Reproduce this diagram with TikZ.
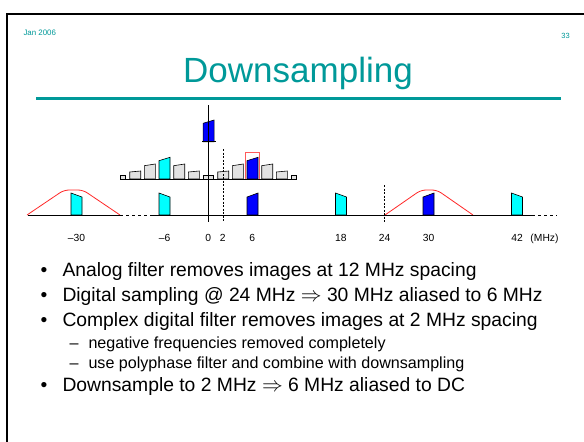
\documentclass[tikz,border=0pt]{standalone}
\usepackage{fontspec}
\setmainfont{Liberation Sans}
\definecolor{slideteal}{RGB}{0,153,153}
\definecolor{pulsegray}{RGB}{226,226,226}
\definecolor{pulsecyan}{RGB}{0,255,255}
\definecolor{pulseblue}{RGB}{0,0,255}
\definecolor{filtred}{RGB}{255,40,40}
\definecolor{boxred}{RGB}{255,90,90}
% one spectral image: centre x, base y, left height, right height, style
\newcommand{\spk}[5]{\draw[#5] ({#1-5.5},#2) -- ({#1-5.5},{#2-#3}) -- ({#1+5.5},{#2-#4}) -- ({#1+5.5},#2) -- cycle;}
\begin{document}
\begin{tikzpicture}[x=1pt,y=-1pt,
  pgray/.style={fill=pulsegray,draw=black,line width=0.6pt},
  pcyan/.style={fill=pulsecyan,draw=black,line width=0.6pt},
  pblue/.style={fill=pulseblue,draw=black,line width=0.6pt},
  axisline/.style={line width=0.9pt,black},
  dashaxis/.style={line width=0.9pt,black,dash pattern=on 3pt off 3pt},
  marker/.style={line width=0.7pt,black,dash pattern=on 2pt off 1.5pt},
  filt/.style={filtred,line width=0.8pt,rounded corners=5pt},
  freq/.style={font=\fontsize{10.3}{12}\selectfont,anchor=base},
  bul/.style={font=\fontsize{19.3}{22}\selectfont,anchor=base west,inner sep=0pt},
  subbul/.style={font=\fontsize{16.1}{19}\selectfont,anchor=base west,inner sep=0pt}]
\useasboundingbox (0,0) rectangle (584,442);
\fill[white] (0,0) rectangle (584,442);
\begin{scope}
\clip (0,0) rectangle (584,442);
% slide frame
\draw[line width=2pt] (6.5,14) rectangle (600,460);
% header
\node[font=\fontsize{7.9}{9}\selectfont,text=slideteal,anchor=base west,inner sep=0pt] (date) at (23.3,35.5) {Jan 2006};
\node[font=\fontsize{7.5}{9}\selectfont,text=slideteal,anchor=base east,inner sep=0pt] (page) at (570,38.5) {33};
\node[font=\fontsize{35}{40}\selectfont,text=slideteal,anchor=base,inner sep=0pt] (title) at (298,82) {Downsampling};
\fill[slideteal] (35.7,96.7) rectangle (560.7,100);

% upper spectrum (after digital filtering)
\spk{135.2}{179}{7}{8}{pgray}
\spk{149.8}{179}{13.3}{15}{pgray}
\spk{164.5}{179}{18.3}{21.7}{pcyan}
\spk{179.2}{179}{13.3}{15}{pgray}
\spk{193.8}{179}{7}{8}{pgray}
\spk{223.2}{179}{7}{8}{pgray}
\spk{237.8}{179}{13.3}{15}{pgray}
\spk{252.5}{179}{18.3}{21.7}{pblue}
\spk{267.2}{179}{13.3}{15}{pgray}
\spk{281.8}{179}{7}{8}{pgray}
\draw[pgray] (120,179) rectangle (125.7,175);
\draw[pgray] (203.3,179) rectangle (213.5,175.3);
\draw[pgray] (291,179) rectangle (296.7,175);
\draw[boxred,line width=0.9pt] (245.7,179) -- (245.7,152.3) -- (259.3,152.3) -- (259.3,179);
\draw[axisline] (120,179) -- (297,179);

% downsampled component at DC
\spk{208.6}{141.7}{18.4}{21.7}{pblue}
\draw[axisline] (202,141.7) -- (215.5,141.7);

% frequency axes
\draw[axisline] (208.3,105) -- (208.3,222);
\draw[marker] (223,149) -- (223,222);
\draw[marker] (384,185) -- (384,222);

% lower spectrum (analog filter and sampled images)
\draw[filt] (27,215) -- (64,190) -- (83,190) -- (120,215);
\draw[filt] (385,215) -- (421,190) -- (437,190) -- (473,215);
\spk{76.5}{215}{22}{18}{pcyan}
\spk{164.5}{215}{22}{18}{pcyan}
\spk{252.5}{215}{18}{22}{pblue}
\spk{341}{215}{22}{18}{pcyan}
\spk{428.5}{215}{18}{22}{pblue}
\spk{517}{215}{22}{18}{pcyan}
\draw[axisline] (28,215) -- (120,215);
\draw[dashaxis] (120,215) -- (153,215);
\draw[axisline] (153,215) -- (532,215);
\draw[dashaxis] (532,215) -- (557,215);

% frequency labels
\node[freq] (lm30) at (76.4,241) {--30};
\node[freq] (lm6) at (164.6,241) {--6};
\node[freq] (l0) at (208.2,241) {0};
\node[freq] (l2) at (222.7,241) {2};
\node[freq] (l6) at (252.3,241) {6};
\node[freq] (l18) at (340.8,241) {18};
\node[freq] (l24) at (384.7,241) {24};
\node[freq] (l30) at (428.7,241) {30};
\node[freq] (l42) at (517,241) {42};
\node[freq] (lunit) at (544.5,241) {(MHz)};

% bullet list
\node[bul] (b1d) at (40.3,276) {\textbullet};
\node[bul] (b1) at (62.3,276) {Analog filter removes images at 12 MHz spacing};
\node[bul] (b2d) at (40.3,301) {\textbullet};
\node[bul] (b2) at (62.3,301) {Digital sampling @ 24 MHz $\Rightarrow$ 30 MHz aliased to 6 MHz};
\node[bul] (b3d) at (40.3,326) {\textbullet};
\node[bul] (b3) at (62.3,326) {Complex digital filter removes images at 2 MHz spacing};
\node[subbul] (s1d) at (69.5,348) {--};
\node[subbul] (s1) at (88.3,348) {negative frequencies removed completely};
\node[subbul] (s2d) at (69.5,368) {--};
\node[subbul] (s2) at (88.3,368) {use polyphase filter and combine with downsampling};
\node[bul] (b4d) at (40.3,391) {\textbullet};
\node[bul] (b4) at (62.3,391) {Downsample to 2 MHz $\Rightarrow$ 6 MHz aliased to DC};
\end{scope}
\end{tikzpicture}
\end{document}
